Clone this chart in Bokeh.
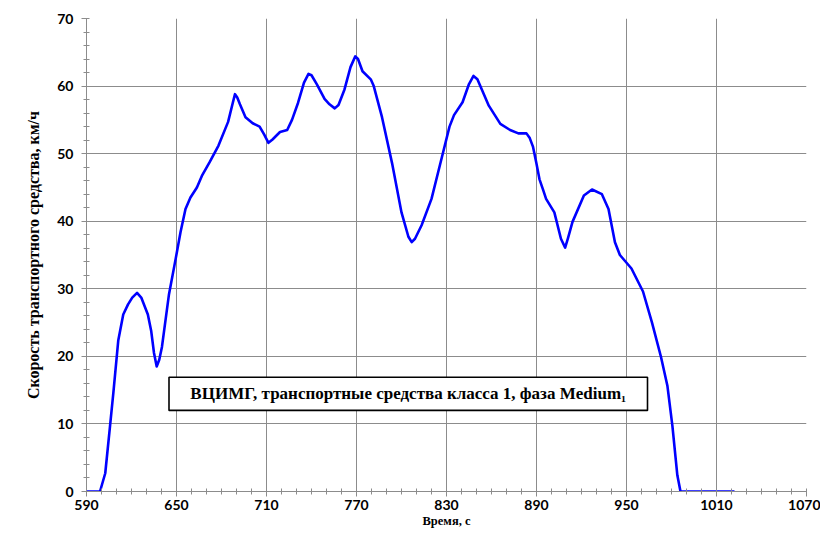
from bokeh.plotting import figure
from bokeh.models import FixedTicker, Range1d, BoxAnnotation, Label
from bokeh.embed import file_html
from bokeh.resources import INLINE

# Data (time, s ; speed, km/h)
time_s = [590, 599, 602.5, 605.7, 607.9, 611.2, 614.5, 617.7, 620.5, 623.7, 626.5,
          630.9, 633.1, 635, 636.8, 638.5, 640.3, 645, 649.5, 652.7, 656, 659.3,
          663.6, 666.9, 672, 678, 684.4, 687.5, 689, 690.5, 692.3, 696, 700.8,
          705.4, 708.5, 711.3, 714, 719, 723.8, 727, 731, 735, 738, 740, 743.5,
          748.7, 752, 755.5, 758, 762, 766, 769.2, 771, 774, 779.5, 781.5, 787,
          793.7, 800, 804.6, 806.8, 809, 813.4, 820, 826.5, 832, 835, 840.7, 845,
          848, 850.6, 858.2, 865.9, 872.4, 877.9, 883.3, 885.5, 887.7, 889.9, 892,
          894.3, 896.4, 901.9, 906.3, 909.1, 911, 914, 921.6, 927, 933.6, 938,
          942.3, 945.6, 953.3, 961, 967, 973, 977.3, 980.6, 983.9, 986, 1022]
speed_kmh = [0, 0, 2.7, 9.7, 14.6, 22.4, 26.2, 27.7, 28.7, 29.4, 28.7,
             26.2, 23.8, 20.5, 18.5, 19.5, 21.4, 29.2, 34.5, 38.4, 41.8, 43.5,
             45.0, 46.7, 48.7, 51.2, 54.7, 57.5, 58.8, 58.3, 57.3, 55.4, 54.5,
             54.0, 52.8, 51.6, 52.1, 53.2, 53.5, 55.0, 57.5, 60.5, 61.8, 61.6, 60.3,
             58.1, 57.3, 56.7, 57.2, 59.5, 62.8, 64.4, 64.0, 62.2, 61.0, 60.0, 55.4,
             48.6, 41.3, 37.7, 36.9, 37.4, 39.4, 43.3, 49.1, 54.0, 55.7, 57.6, 60.3,
             61.5, 61.0, 57.1, 54.4, 53.5, 53.0, 53.0, 52.3, 51.0, 48.6, 46.2,
             44.7, 43.3, 41.3, 37.4, 36.1, 37.5, 39.9, 43.8, 44.7, 44.0, 41.8,
             36.9, 35.0, 33.0, 29.6, 25.0, 19.9, 15.6, 9.7, 2.4, 0, 0]

x_ticks = [590, 650, 710, 770, 830, 890, 950, 1010, 1070]
x_minor = list(range(590, 1071, 10))
y_ticks = [0, 10, 20, 30, 40, 50, 60, 70]
y_minor = list(range(0, 71, 2))

title_text = "ВЦИМГ, транспортные средства класса 1, фаза Medium\u2081"
x_label = "Время, с"
y_label = "Скорость транспортного средства, км/ч"

p = figure(width=820, height=530, output_backend="svg", toolbar_location=None,
           x_range=Range1d(590, 1070), y_range=Range1d(0, 70),
           min_border_left=86, min_border_right=14, min_border_top=18,
           min_border_bottom=36)
p.outline_line_color = None
p.background_fill_color = "white"
p.border_fill_color = "white"

grid_color = "#8c8c8c"
p.xaxis.ticker = FixedTicker(ticks=x_ticks, minor_ticks=x_minor)
p.yaxis.ticker = FixedTicker(ticks=y_ticks, minor_ticks=y_minor)
p.xgrid.grid_line_color = grid_color
p.ygrid.grid_line_color = grid_color
p.xgrid.grid_line_width = 1
p.ygrid.grid_line_width = 1

for ax in (p.xaxis, p.yaxis):
    ax.axis_line_color = grid_color
    ax.major_tick_line_color = grid_color
    ax.minor_tick_line_color = grid_color
    ax.major_tick_in = 0
    ax.major_tick_out = 5
    ax.minor_tick_in = 3
    ax.minor_tick_out = 3
    ax.major_label_text_font = "Lato"
    ax.major_label_text_font_style = "bold"
    ax.major_label_text_font_size = "14px"
    ax.major_label_text_color = "black"
    ax.axis_label_text_font = "Liberation Serif"
    ax.axis_label_text_font_style = "bold"
    ax.axis_label_text_color = "black"

p.xaxis.major_label_standoff = 3
p.xaxis.axis_label = x_label
p.xaxis.axis_label_text_font_size = "12.5px"
p.xaxis.axis_label_standoff = 1
p.yaxis.major_label_standoff = 8
p.yaxis.axis_label = y_label
p.yaxis.axis_label_text_font_size = "16px"
p.yaxis.axis_label_standoff = 12

p.line(time_s, speed_kmh, line_color="#0000ff", line_width=2.6, line_join="round")

box = BoxAnnotation(left=645, right=964, bottom=12.0, top=16.9,
                    fill_color="white", fill_alpha=1.0,
                    line_color="black", line_alpha=1.0, line_width=1.6)
p.add_layout(box)
p.add_layout(Label(x=804.5, y=14.45, text=title_text, text_align="center",
                   text_baseline="middle", text_font="Liberation Serif",
                   text_font_style="bold", text_font_size="17px",
                   text_color="black"))

open("out.html", "w").write(file_html(p, INLINE))
